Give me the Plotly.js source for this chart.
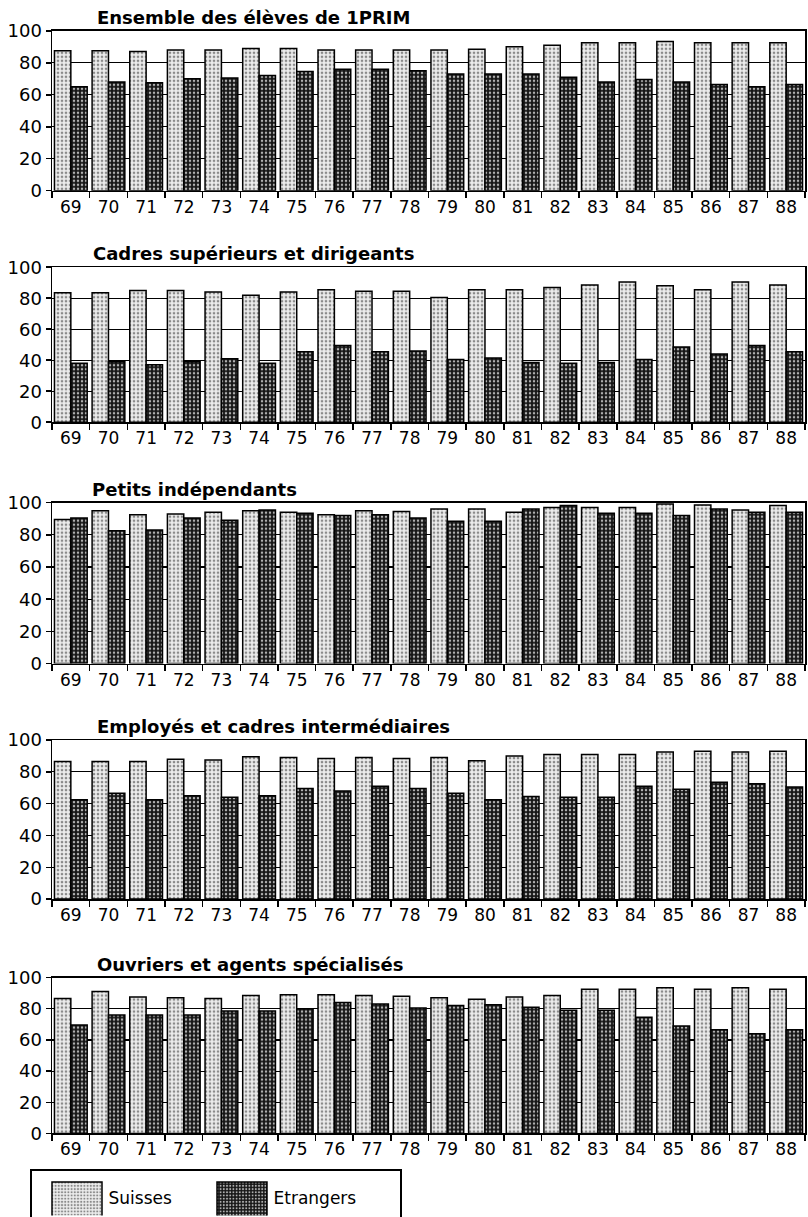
<!DOCTYPE html>
<html>
<head>
<meta charset="utf-8">
<script src="https://cdn.plot.ly/plotly-3.0.1.min.js"></script>
<style>
  html, body { margin: 0; padding: 0; background: #ffffff; }
  #chart { width: 808px; height: 1217px; }
</style>
</head>
<body>
<div id="chart"></div>
<script>
// ---- Data ----
const years = ['69','70','71','72','73','74','75','76','77','78','79','80','81','82','83','84','85','86','87','88'];

const panelTitles = [
  'Ensemble des élèves de 1PRIM',
  'Cadres supérieurs et dirigeants',
  'Petits indépendants',
  'Employés et cadres intermédiaires',
  'Ouvriers et agents spécialisés'
];

const seriesNames = ['Suisses', 'Etrangers'];

const ensembleSuisses   = [87.5,87.5,87,88,88,89,89,88,88,88,88,88.5,90,91,92.5,92.5,93.3,92.5,92.5,92.5];
const ensembleEtrangers = [65,68,67.5,70,70.5,72,74.5,76,76,75,73,73,73,71,68,69.5,68,66.5,65,66.5];

const cadresSuisses   = [83.5,83.5,85,85,84,82,84,85.5,84.5,84.5,80.5,85.5,85.5,87,88.5,90.5,88,85.5,90.5,88.5];
const cadresEtrangers = [38,39,37,39,41,38,45.5,49.5,45.5,46,40.5,41.5,38.5,38,38.5,40.5,48.5,44,49.5,45.5];

const petitsSuisses   = [89.5,95,92.5,93,94,95,94,92.5,95,94.5,96,96,94,97,97,97,99.2,98.6,95.5,98.2];
const petitsEtrangers = [90.5,82.5,83,90.5,89,95.5,93.5,92,92.5,90.5,88.5,88.5,96,98.2,93.5,93.5,92,96,94,94];

const employesSuisses   = [86.5,86.5,86.5,88,87.5,89.5,89,88.5,89,88.5,89,87,90,91,91,91,92.5,93,92.5,93];
const employesEtrangers = [62.5,66.5,62.5,65,64,65,69.5,68,71,69.5,66.5,62.5,64.5,64,64,71,69,73.5,72.5,70.5];

const ouvriersSuisses   = [86.5,91,87.5,87,86.5,88.5,89,89,88.5,88,87,86,87.5,88.5,92.5,92.5,93.5,92.5,93.5,92.5];
const ouvriersEtrangers = [69.5,76,76,76,78.5,78.5,80,84,83,80.5,82,82.5,81,79,79,74.5,69,66.5,64,66.5];

const panelSuisses   = [ensembleSuisses, cadresSuisses, petitsSuisses, employesSuisses, ouvriersSuisses];
const panelEtrangers = [ensembleEtrangers, cadresEtrangers, petitsEtrangers, employesEtrangers, ouvriersEtrangers];

const yTicks = [0, 20, 40, 60, 80, 100];

// ---- Layout geometry (pixels) ----
const W = 808, H = 1217;
const plotLeft = 52, plotRight = 805;
const panelPx = [[31,192],[269,425],[506,668],[745,905],[984,1141]];
const titleLeftPx = [95, 91, 90, 95, 95];
const legendTopPx = 1186;

const FONT = 'DejaVu Sans, Liberation Sans, Arial, sans-serif';

const suissesMarker = {
  color: '#e4e4e4',
  line: {color: '#000', width: 1.5},
  pattern: {shape: '.', bgcolor: '#ececec', fgcolor: '#8a8a8a', size: 4, solidity: 0.35, fillmode: 'replace'}
};
const etrangersMarker = {
  color: '#2a2a2a',
  line: {color: '#000', width: 1.5},
  pattern: {shape: '.', bgcolor: '#161616', fgcolor: '#b0b0b0', size: 4, solidity: 0.3, fillmode: 'replace'}
};

const data = [];
const layout = {
  width: W, height: H,
  margin: {l: 0, r: 0, t: 0, b: 0},
  paper_bgcolor: '#ffffff',
  plot_bgcolor: '#ffffff',
  barmode: 'group',
  bargap: 0.13,
  bargroupgap: 0,
  font: {family: FONT, color: '#000', size: 17},
  showlegend: true,
  legend: {
    orientation: 'h',
    x: 30 / W, y: 1 - legendTopPx / H,
    xanchor: 'left', yanchor: 'top',
    bordercolor: '#000', borderwidth: 1.5,
    bgcolor: '#ffffff',
    font: {family: FONT, size: 17, color: '#000'},
    itemwidth: 67,
    entrywidth: 83,
    entrywidthmode: 'pixels',
    traceorder: 'normal'
  },
  annotations: []
};

for (let i = 0; i < 5; i++) {
  const sfx = i === 0 ? '' : String(i + 1);
  const xa = 'x' + sfx, ya = 'y' + sfx;
  data.push({
    type: 'bar', name: seriesNames[0], x: years, y: panelSuisses[i],
    xaxis: xa, yaxis: ya, marker: suissesMarker,
    legendgroup: 'S', showlegend: i === 0, hoverinfo: 'x+y+name'
  });
  data.push({
    type: 'bar', name: seriesNames[1], x: years, y: panelEtrangers[i],
    xaxis: xa, yaxis: ya, marker: etrangersMarker,
    legendgroup: 'E', showlegend: i === 0, hoverinfo: 'x+y+name'
  });
  const top = panelPx[i][0], bot = panelPx[i][1];
  layout['xaxis' + sfx] = {
    domain: [plotLeft / W, plotRight / W],
    anchor: ya,
    type: 'category',
    showline: true, linecolor: '#000', linewidth: 1.5, mirror: true,
    ticks: 'outside', tickson: 'boundaries', ticklen: 6, tickwidth: 1.5, tickcolor: '#000',
    showgrid: false, zeroline: false,
    tickfont: {family: FONT, size: 17, color: '#000'},
    fixedrange: true
  };
  layout['yaxis' + sfx] = {
    domain: [1 - bot / H, 1 - top / H],
    anchor: xa,
    range: [0, 100],
    tickvals: yTicks,
    ticktext: yTicks.map(String),
    showline: true, linecolor: '#000', linewidth: 1.5, mirror: true,
    ticks: 'outside', ticklen: 5, tickwidth: 1.5, tickcolor: '#000',
    showgrid: true, gridcolor: '#000', gridwidth: 1.2,
    zeroline: false,
    tickfont: {family: FONT, size: 18, color: '#000'},
    fixedrange: true
  };
  layout.annotations.push({
    text: panelTitles[i],
    xref: 'paper', yref: 'paper',
    x: titleLeftPx[i] / W, y: 1 - (top - 1) / H,
    xanchor: 'left', yanchor: 'bottom',
    showarrow: false,
    font: {family: FONT, size: 18, color: '#000', weight: 'bold'}
  });
}

Plotly.newPlot('chart', data, layout, {displayModeBar: false, staticPlot: true}).then(gd => {
  // enlarge the legend swatches to match the large boxes of the original
  gd.querySelectorAll('.legend .traces').forEach(tr => {
    tr.querySelectorAll('.legendpoints path').forEach(p => {
      p.setAttribute('d', 'M-18,-15H32V22H-18Z');
    });
  });
  // legend frame: same width as the original and running off the bottom edge
  const bg = gd.querySelector('.legend rect.bg');
  if (bg) {
    bg.setAttribute('y', String(1178 - legendTopPx));
    bg.setAttribute('height', '70');
    bg.setAttribute('width', '370');
  }
});
</script>
</body>
</html>
